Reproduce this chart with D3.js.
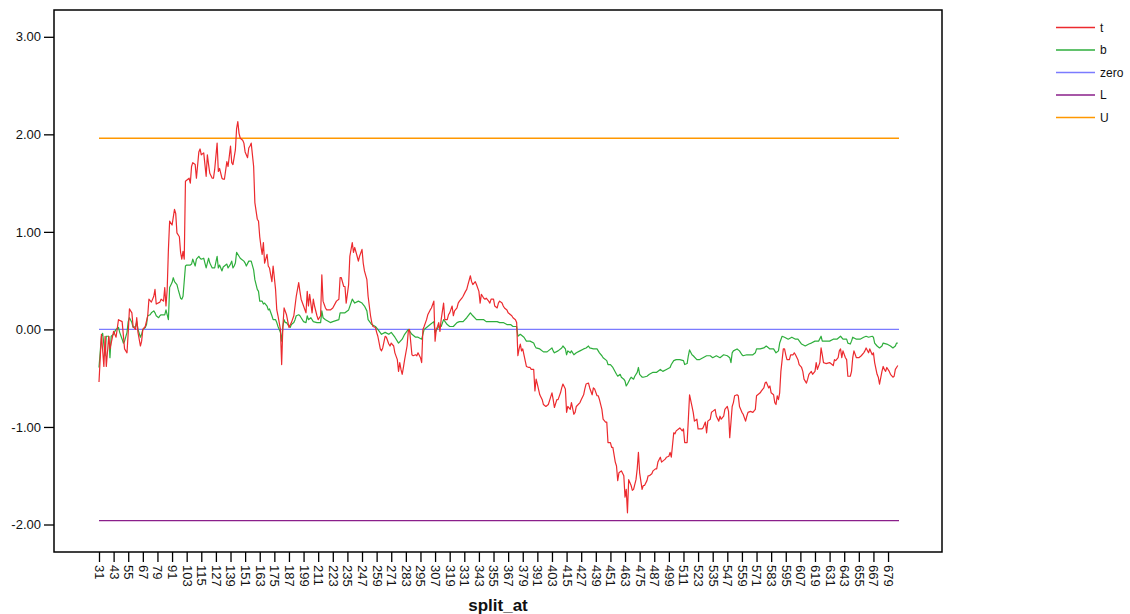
<!DOCTYPE html>
<html>
<head>
<meta charset="utf-8">
<script src="https://cdn.jsdelivr.net/npm/d3@7"></script>
<style>
  html, body { margin: 0; padding: 0; background: #fff; }
  svg { display: block; font-family: Arial, "Liberation Sans", sans-serif; }
</style>
</head>
<body>
<svg id="chart" width="1130" height="614"></svg>
<script>
// ---- data ----
const xTickValues = [31,43,55,67,79,91,103,115,127,139,151,163,175,187,199,211,223,235,247,259,271,283,295,307,319,331,343,355,367,379,391,403,415,427,439,451,463,475,487,499,511,523,535,547,559,571,583,595,607,619,631,643,655,667,679];
const yTickValues = [-2, -1, 0, 1, 2, 3];
const splitRange = [31, 688];
const seriesNames = ["t", "b", "zero", "L", "U"];
const seriesColors = ["#ec2a2e", "#2eae3c", "#7b7bff", "#8a1f8a", "#ff9800"];
const refLevels = { zero: 0, L: -1.96, U: 1.96 };

const tData = [[31,-0.54],[33,-0.05],[35,-0.38],[36,-0.07],[37,-0.38],[39,-0.07],[40,-0.20],[43,-0.02],[45,-0.08],[47,0.10],[50,0.08],[52,-0.20],[54,-0.24],[55,-0.03],[56,0.21],[58,0.17],[59,0.03],[61,0.00],[62,0.12],[63,-0.03],[65,-0.17],[66,-0.12],[67,0.00],[69,0.03],[71,0.14],[72,0.31],[74,0.28],[76,0.34],[77,0.41],[78,0.26],[81,0.28],[82,0.31],[84,0.29],[85,0.43],[86,0.24],[87,0.41],[88,0.82],[89,1.11],[91,1.07],[93,1.23],[94,1.19],[95,0.99],[97,0.95],[98,0.79],[99,0.72],[100,0.80],[101,0.72],[102,1.52],[104,1.54],[105,1.55],[106,1.50],[107,1.67],[108,1.71],[110,1.69],[111,1.55],[113,1.82],[114,1.85],[115,1.79],[117,1.81],[118,1.69],[119,1.57],[120,1.79],[121,1.69],[122,1.60],[124,1.55],[125,1.55],[126,1.64],[128,1.91],[129,1.62],[130,1.65],[132,1.55],[133,1.54],[134,1.54],[136,1.72],[137,1.67],[139,1.88],[140,1.71],[141,1.69],[143,1.84],[144,2.06],[145,2.13],[146,2.01],[147,1.96],[149,1.94],[150,1.91],[151,1.82],[153,1.76],[154,1.86],[155,1.88],[156,1.91],[158,1.67],[159,1.30],[161,1.13],[162,1.11],[163,0.95],[164,0.85],[165,0.77],[166,0.89],[167,0.68],[169,0.77],[170,0.65],[171,0.63],[173,0.49],[174,0.65],[176,0.41],[177,0.20],[178,0.14],[180,0.00],[181,-0.36],[182,0.03],[183,0.22],[185,0.15],[187,0.02],[189,0.07],[191,0.14],[193,0.34],[195,0.48],[196,0.39],[197,0.31],[199,0.24],[201,0.17],[202,0.39],[203,0.24],[204,0.36],[206,0.17],[207,0.31],[208,0.24],[210,0.14],[211,0.10],[213,0.14],[214,0.56],[215,0.29],[217,0.22],[218,0.20],[221,0.20],[223,0.22],[226,0.29],[228,0.31],[229,0.53],[230,0.53],[232,0.44],[233,0.44],[234,0.27],[236,0.46],[237,0.75],[239,0.89],[240,0.79],[241,0.84],[243,0.75],[244,0.70],[245,0.75],[247,0.82],[248,0.68],[249,0.60],[251,0.51],[252,0.34],[254,0.14],[255,0.07],[256,0.03],[258,0.02],[259,-0.03],[260,-0.07],[262,-0.20],[263,-0.22],[264,-0.19],[266,-0.07],[267,-0.08],[269,-0.15],[270,-0.17],[271,-0.14],[273,-0.17],[274,-0.24],[276,-0.31],[277,-0.43],[278,-0.34],[279,-0.41],[280,-0.46],[281,-0.39],[282,-0.31],[284,-0.17],[285,-0.02],[286,0.00],[288,-0.26],[289,-0.27],[291,-0.26],[292,-0.27],[293,-0.24],[295,-0.29],[296,-0.34],[297,0.00],[298,0.03],[300,0.10],[301,0.15],[303,0.20],[304,0.22],[306,0.29],[307,-0.12],[308,0.00],[309,0.03],[310,0.07],[311,-0.02],[312,0.10],[314,0.27],[315,0.10],[317,0.10],[318,0.15],[319,0.17],[321,0.24],[322,0.14],[323,0.19],[325,0.22],[326,0.27],[327,0.29],[329,0.32],[330,0.34],[332,0.39],[333,0.41],[334,0.46],[336,0.55],[337,0.49],[338,0.46],[340,0.49],[341,0.46],[343,0.39],[344,0.27],[345,0.36],[347,0.32],[348,0.31],[349,0.32],[351,0.29],[352,0.27],[353,0.31],[355,0.31],[356,0.24],[358,0.22],[359,0.27],[360,0.29],[362,0.27],[363,0.24],[364,0.22],[366,0.20],[367,0.17],[369,0.15],[370,0.14],[371,0.12],[373,0.10],[374,0.07],[375,-0.27],[376,-0.20],[377,-0.15],[378,-0.22],[379,-0.20],[380,-0.26],[382,-0.38],[384,-0.39],[385,-0.39],[386,-0.41],[388,-0.41],[389,-0.63],[390,-0.51],[391,-0.56],[393,-0.67],[395,-0.72],[396,-0.77],[398,-0.79],[400,-0.77],[401,-0.73],[403,-0.65],[404,-0.72],[405,-0.80],[407,-0.72],[408,-0.72],[410,-0.65],[411,-0.60],[412,-0.56],[414,-0.61],[415,-0.85],[416,-0.79],[418,-0.82],[419,-0.75],[421,-0.87],[422,-0.85],[423,-0.79],[426,-0.75],[427,-0.72],[429,-0.67],[430,-0.61],[431,-0.56],[433,-0.55],[434,-0.60],[436,-0.67],[437,-0.60],[438,-0.61],[440,-0.68],[441,-0.68],[442,-0.72],[444,-0.82],[445,-0.92],[447,-0.95],[448,-0.95],[449,-1.16],[451,-1.16],[452,-1.21],[453,-1.21],[455,-1.36],[456,-1.40],[457,-1.55],[458,-1.47],[460,-1.45],[462,-1.50],[463,-1.72],[464,-1.64],[465,-1.88],[466,-1.54],[468,-1.60],[469,-1.65],[470,-1.64],[472,-1.54],[473,-1.43],[474,-1.26],[475,-1.47],[477,-1.64],[478,-1.60],[479,-1.60],[481,-1.55],[482,-1.50],[483,-1.50],[485,-1.48],[486,-1.45],[488,-1.43],[489,-1.43],[490,-1.36],[492,-1.31],[493,-1.36],[494,-1.35],[496,-1.33],[497,-1.31],[499,-1.30],[500,-1.26],[501,-1.31],[503,-1.06],[504,-1.07],[505,-1.04],[507,-1.02],[508,-1.01],[510,-1.04],[511,-1.02],[512,-1.16],[514,-1.16],[515,-0.92],[516,-0.67],[518,-0.79],[519,-0.85],[520,-0.94],[522,-0.92],[523,-1.02],[524,-1.02],[526,-1.02],[527,-1.01],[529,-0.95],[530,-1.06],[531,-0.94],[533,-0.92],[534,-0.85],[535,-0.84],[537,-0.82],[538,-0.89],[540,-0.94],[541,-0.89],[542,-0.92],[544,-0.89],[545,-0.82],[547,-0.79],[548,-0.84],[549,-1.11],[551,-0.79],[552,-0.75],[553,-0.68],[555,-0.67],[556,-0.68],[557,-0.79],[559,-0.85],[560,-0.87],[562,-0.94],[563,-0.89],[564,-0.85],[566,-0.84],[568,-0.85],[570,-0.82],[571,-0.68],[572,-0.67],[574,-0.65],[575,-0.63],[577,-0.60],[578,-0.55],[579,-0.54],[581,-0.60],[582,-0.58],[583,-0.65],[585,-0.67],[586,-0.75],[587,-0.77],[588,-0.68],[589,-0.72],[590,-0.65],[591,-0.43],[593,-0.20],[594,-0.20],[595,-0.26],[596,-0.31],[598,-0.31],[599,-0.26],[601,-0.26],[602,-0.24],[603,-0.26],[605,-0.31],[606,-0.36],[608,-0.39],[609,-0.43],[610,-0.51],[612,-0.55],[613,-0.51],[614,-0.46],[616,-0.43],[617,-0.46],[619,-0.43],[620,-0.34],[621,-0.41],[623,-0.34],[624,-0.19],[625,-0.26],[626,-0.34],[628,-0.35],[631,-0.34],[634,-0.37],[635,-0.31],[636,-0.32],[638,-0.29],[639,-0.22],[640,-0.20],[641,-0.29],[642,-0.22],[644,-0.29],[645,-0.31],[646,-0.48],[648,-0.48],[649,-0.43],[650,-0.29],[651,-0.22],[653,-0.29],[655,-0.29],[657,-0.27],[659,-0.24],[660,-0.22],[661,-0.19],[663,-0.24],[664,-0.20],[666,-0.26],[667,-0.24],[668,-0.34],[670,-0.46],[671,-0.49],[672,-0.56],[674,-0.43],[675,-0.38],[676,-0.41],[677,-0.43],[678,-0.39],[680,-0.43],[681,-0.46],[683,-0.49],[684,-0.48],[685,-0.41],[686,-0.39],[687,-0.37]];

const bData = [[31,-0.39],[33,-0.07],[34,-0.04],[36,-0.27],[37,-0.07],[39,-0.07],[40,-0.29],[41,-0.07],[43,-0.05],[44,-0.02],[45,0.00],[47,0.02],[48,-0.03],[50,-0.10],[51,-0.14],[52,-0.12],[54,-0.03],[55,0.08],[56,0.12],[58,0.07],[59,0.02],[61,0.03],[62,0.08],[63,0.00],[65,-0.08],[66,-0.05],[67,0.00],[69,0.02],[70,0.05],[71,0.14],[73,0.15],[74,0.17],[76,0.19],[77,0.17],[78,0.14],[80,0.12],[81,0.14],[82,0.15],[84,0.15],[85,0.15],[86,0.20],[88,0.10],[89,0.43],[91,0.48],[92,0.53],[93,0.49],[95,0.46],[96,0.41],[98,0.32],[99,0.31],[100,0.34],[102,0.65],[103,0.66],[106,0.66],[107,0.67],[108,0.72],[110,0.65],[111,0.72],[113,0.75],[114,0.73],[115,0.72],[117,0.73],[118,0.68],[119,0.63],[121,0.73],[122,0.68],[124,0.63],[125,0.63],[126,0.63],[128,0.75],[129,0.63],[130,0.66],[132,0.60],[133,0.64],[134,0.65],[136,0.67],[137,0.63],[139,0.67],[140,0.70],[141,0.63],[142,0.65],[143,0.68],[144,0.79],[146,0.75],[147,0.73],[148,0.72],[150,0.70],[151,0.68],[152,0.65],[154,0.70],[155,0.70],[156,0.70],[158,0.61],[159,0.51],[161,0.41],[162,0.39],[163,0.29],[165,0.29],[166,0.26],[167,0.27],[169,0.24],[170,0.20],[171,0.21],[173,0.14],[174,0.10],[176,0.10],[177,0.07],[178,0.03],[180,-0.03],[181,-0.12],[182,0.03],[183,0.10],[184,0.07],[185,0.07],[186,0.05],[188,0.02],[189,0.05],[191,0.07],[192,0.10],[193,0.14],[195,0.15],[196,0.14],[197,0.12],[199,0.08],[201,0.07],[202,0.14],[203,0.10],[205,0.12],[207,0.08],[210,0.07],[213,0.07],[214,0.19],[215,0.12],[217,0.10],[221,0.07],[223,0.08],[228,0.10],[229,0.17],[233,0.17],[236,0.20],[239,0.31],[241,0.27],[244,0.29],[247,0.27],[249,0.24],[251,0.19],[252,0.10],[255,0.05],[258,0.03],[260,0.00],[263,-0.05],[266,-0.03],[269,-0.05],[271,-0.03],[274,-0.08],[277,-0.14],[280,-0.10],[282,-0.05],[285,0.00],[288,-0.05],[291,-0.08],[293,-0.08],[296,-0.10],[298,0.00],[300,0.02],[303,0.05],[306,0.08],[307,-0.03],[310,0.03],[312,0.03],[314,0.10],[317,0.05],[319,0.03],[322,0.03],[325,0.07],[327,0.08],[330,0.08],[333,0.12],[336,0.17],[338,0.14],[341,0.10],[344,0.10],[347,0.10],[349,0.08],[352,0.08],[355,0.08],[358,0.08],[360,0.07],[363,0.07],[366,0.05],[369,0.05],[371,0.03],[374,0.03],[375,-0.07],[377,-0.05],[380,-0.08],[382,-0.12],[385,-0.12],[388,-0.14],[389,-0.17],[390,-0.19],[393,-0.20],[396,-0.23],[399,-0.23],[401,-0.21],[403,-0.19],[404,-0.22],[405,-0.24],[408,-0.22],[411,-0.19],[412,-0.17],[414,-0.20],[415,-0.26],[416,-0.22],[418,-0.24],[419,-0.22],[421,-0.26],[423,-0.24],[426,-0.22],[429,-0.20],[431,-0.19],[433,-0.17],[434,-0.19],[437,-0.20],[440,-0.20],[442,-0.24],[444,-0.27],[445,-0.29],[448,-0.32],[449,-0.36],[451,-0.36],[453,-0.39],[456,-0.46],[457,-0.48],[459,-0.46],[460,-0.49],[462,-0.51],[463,-0.53],[464,-0.58],[465,-0.56],[467,-0.51],[468,-0.49],[470,-0.51],[471,-0.48],[473,-0.44],[474,-0.39],[475,-0.46],[477,-0.49],[478,-0.49],[481,-0.48],[483,-0.46],[486,-0.44],[489,-0.44],[492,-0.41],[494,-0.43],[497,-0.41],[500,-0.39],[501,-0.36],[503,-0.32],[505,-0.31],[508,-0.31],[511,-0.32],[512,-0.36],[514,-0.35],[515,-0.27],[516,-0.21],[518,-0.26],[519,-0.27],[522,-0.31],[524,-0.31],[527,-0.29],[530,-0.27],[533,-0.27],[535,-0.29],[538,-0.27],[541,-0.29],[544,-0.26],[547,-0.27],[549,-0.29],[550,-0.34],[551,-0.24],[552,-0.22],[555,-0.20],[557,-0.22],[559,-0.26],[560,-0.27],[563,-0.26],[566,-0.26],[568,-0.26],[570,-0.24],[571,-0.20],[574,-0.20],[577,-0.19],[579,-0.17],[581,-0.19],[582,-0.20],[585,-0.20],[587,-0.24],[589,-0.22],[590,-0.14],[592,-0.07],[594,-0.08],[597,-0.10],[600,-0.08],[603,-0.10],[605,-0.10],[608,-0.15],[611,-0.17],[614,-0.15],[616,-0.14],[619,-0.12],[622,-0.12],[624,-0.07],[625,-0.12],[629,-0.12],[631,-0.12],[634,-0.10],[637,-0.10],[640,-0.07],[642,-0.10],[645,-0.10],[646,-0.14],[648,-0.15],[649,-0.12],[650,-0.08],[653,-0.10],[656,-0.10],[659,-0.08],[661,-0.07],[663,-0.08],[666,-0.07],[667,-0.08],[668,-0.14],[670,-0.17],[672,-0.19],[674,-0.17],[675,-0.14],[678,-0.15],[681,-0.17],[683,-0.19],[685,-0.17],[686,-0.14],[687,-0.14]];

// ---- chart ----
const svg = d3.select("#chart");
const frame = { left: 54, top: 10, right: 942, bottom: 552 };

const x = d3.scaleLinear().domain(splitRange).range([99, 899]);
const y = d3.scaleLinear().domain([-2, 3]).range([524.5, 36.8]);
const color = d3.scaleOrdinal().domain(seriesNames).range(seriesColors);
const fmtY = d => d3.format(".2f")(d).replace("\u2212", "-");

// reference lines
Object.entries(refLevels).forEach(([name, v]) => {
  svg.append("line")
    .attr("x1", x(splitRange[0])).attr("x2", x(splitRange[1]))
    .attr("y1", y(v)).attr("y2", y(v))
    .attr("stroke", color(name)).attr("stroke-width", 1.3);
});

const line = d3.line().x(d => x(d[0])).y(d => y(d[1]));
svg.append("path").datum(bData)
  .attr("d", line).attr("fill", "none")
  .attr("stroke", color("b")).attr("stroke-width", 1.2).attr("stroke-linejoin", "round");
svg.append("path").datum(tData)
  .attr("d", line).attr("fill", "none")
  .attr("stroke", color("t")).attr("stroke-width", 1.2).attr("stroke-linejoin", "round");

// frame
svg.append("rect")
  .attr("x", frame.left).attr("y", frame.top)
  .attr("width", frame.right - frame.left).attr("height", frame.bottom - frame.top)
  .attr("fill", "none").attr("stroke", "#000").attr("stroke-width", 1.5);

// y axis
const yAxis = svg.append("g")
  .attr("transform", `translate(${frame.left},0)`)
  .call(d3.axisLeft(y).tickValues(yTickValues).tickFormat(fmtY).tickSize(10).tickPadding(3));
yAxis.select(".domain").remove();
yAxis.selectAll(".tick line").attr("stroke", "#000").attr("stroke-width", 1.3);
yAxis.selectAll(".tick text").attr("font-size", 13).attr("fill", "#111")
  .attr("font-family", "Arial, 'Liberation Sans', sans-serif");

// x axis
const xAxis = svg.append("g")
  .attr("transform", `translate(0,${frame.bottom})`)
  .call(d3.axisBottom(x).tickValues(xTickValues).tickFormat(d3.format("d")).tickSize(10).tickPadding(3));
xAxis.select(".domain").remove();
xAxis.selectAll(".tick line").attr("stroke", "#000").attr("stroke-width", 1.3);
xAxis.selectAll(".tick text")
  .attr("font-size", 13).attr("fill", "#111")
  .attr("font-family", "Arial, 'Liberation Sans', sans-serif")
  .attr("transform", "rotate(90)")
  .attr("text-anchor", "start")
  .attr("x", 13).attr("y", 0).attr("dy", "0.35em");

svg.append("text")
  .attr("x", 498).attr("y", 611)
  .attr("text-anchor", "middle")
  .attr("font-size", 17).attr("font-weight", "bold").attr("fill", "#111")
  .text("split_at");

// legend
const legend = svg.append("g");
seriesNames.forEach((name, i) => {
  const ly = 27.5 + i * 22.5;
  legend.append("line")
    .attr("x1", 1056).attr("x2", 1095).attr("y1", ly).attr("y2", ly)
    .attr("stroke", color(name)).attr("stroke-width", 1.3);
  legend.append("text")
    .attr("x", 1100).attr("y", ly).attr("dy", "0.35em")
    .attr("font-size", 12).attr("fill", "#111")
    .text(name);
});
</script>
</body>
</html>
